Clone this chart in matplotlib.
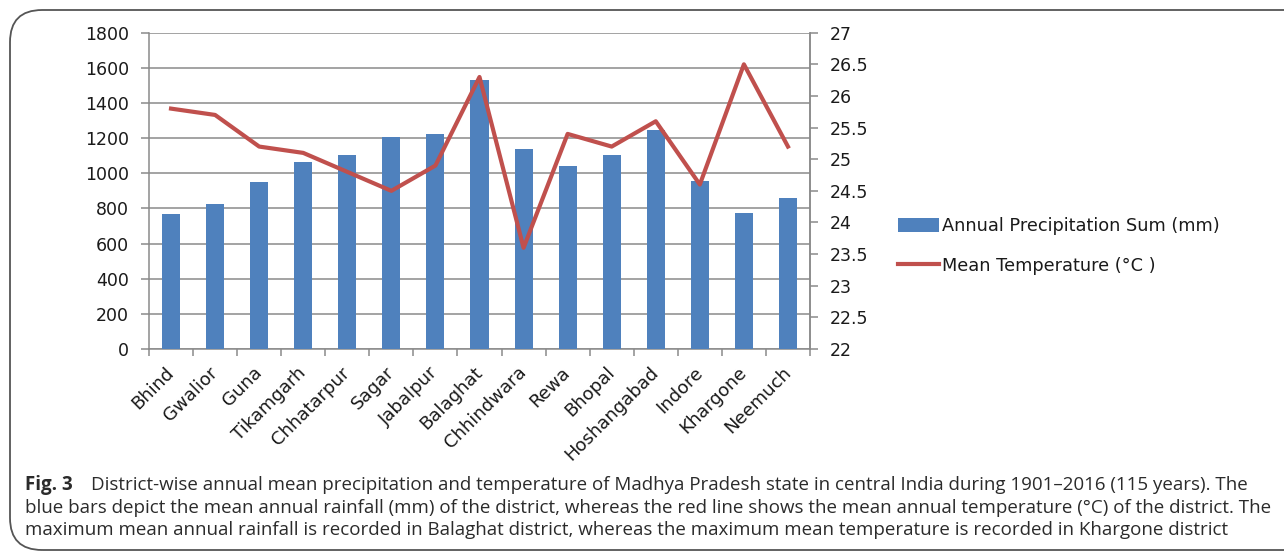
import matplotlib
matplotlib.use("Agg")
import matplotlib.pyplot as plt
from matplotlib.patches import FancyBboxPatch, Patch
from matplotlib.lines import Line2D
import numpy as np

districts = ["Bhind", "Gwalior", "Guna", "Tikamgarh", "Chhatarpur", "Sagar",
             "Jabalpur", "Balaghat", "Chhindwara", "Rewa", "Bhopal",
             "Hoshangabad", "Indore", "Khargone", "Neemuch"]
precip_mm = [768, 823, 952, 1064, 1103, 1206, 1225, 1532, 1140, 1039,
             1102, 1244, 954, 776, 861]
temp_c = [25.8, 25.7, 25.2, 25.1, 24.8, 24.5, 24.9, 26.3, 23.6, 25.4,
          25.2, 25.6, 24.6, 26.5, 25.2]
precip_ticks = [0, 200, 400, 600, 800, 1000, 1200, 1400, 1600, 1800]
temp_ticks = [22, 22.5, 23, 23.5, 24, 24.5, 25, 25.5, 26, 26.5, 27]
temp_tick_labels = ["22", "22.5", "23", "23.5", "24", "24.5", "25", "25.5",
                    "26", "26.5", "27"]

BAR = "#4F81BD"
LINE = "#C0504D"
GRID = "#8A8A8A"
TXT = "#1a1a1a"
FONT = ["DejaVu Sans"]
CAP_FONT = ["Open Sans", "DejaVu Sans"]
CAP_COLOR = "#2b2b2b"

W, H = 1284, 552
fig = plt.figure(figsize=(W / 100, H / 100), dpi=100)

# rounded frame around the figure and its caption
frame = FancyBboxPatch((10 / W, 2 / H), (W + 40) / W, (H - 12) / H,
                       boxstyle="round,pad=0,rounding_size=0.025",
                       transform=fig.transFigure, fill=False,
                       edgecolor="#555555", linewidth=1.3,
                       mutation_aspect=W / H)
fig.patches.append(frame)

ax = fig.add_axes([149 / W, 1 - 349 / H, (810 - 149) / W, (349 - 32.7) / H])
x = np.arange(len(districts))
ax.bar(x, precip_mm, width=0.41, color=BAR, zorder=3)
ax.set_xlim(-0.5, len(districts) - 0.5)
ax.set_ylim(0, 1800)
ax.set_yticks(precip_ticks)
ax.yaxis.grid(True, color=GRID, linewidth=1.1, zorder=0)
ax.set_axisbelow(True)
ax.set_xticks(np.arange(-0.5, len(districts), 1.0))
ax.set_xticklabels([])
ax.set_xticks(x, minor=True)
ax.set_xticklabels(districts, minor=True, rotation=45, ha="right",
                   va="center", rotation_mode="anchor", fontsize=13,
                   family=FONT, color=TXT)
ax.tick_params(axis="x", which="major", length=5, color=GRID, width=1.1)
ax.tick_params(axis="x", which="minor", length=0, pad=15)
ax.tick_params(axis="y", length=5.5, color=GRID, width=1.1, labelsize=12.5,
               labelcolor=TXT, pad=9)
for lbl in ax.get_yticklabels():
    lbl.set_family(FONT)
for s in ["left", "bottom", "right"]:
    ax.spines[s].set_color(GRID)
    ax.spines[s].set_linewidth(1.1)
ax.spines["top"].set_visible(False)

ax2 = ax.twinx()
ax2.plot(x, temp_c, color=LINE, linewidth=3, zorder=4)
ax2.set_ylim(22, 27)
ax2.set_yticks(temp_ticks)
ax2.set_yticklabels(temp_tick_labels, family=FONT)
ax2.tick_params(axis="y", length=6, color=GRID, width=1.1, labelsize=12.5,
                labelcolor=TXT, pad=8)
for s in ["left", "bottom", "top"]:
    ax2.spines[s].set_visible(False)
ax2.spines["right"].set_color(GRID)
ax2.spines["right"].set_linewidth(1.1)

handles = [Patch(facecolor=BAR, edgecolor="none"),
           Line2D([0], [0], color=LINE, linewidth=3)]
fig.legend(handles, ["Annual Precipitation Sum (mm)", "Mean Temperature (°C )"],
           loc="center left", bbox_to_anchor=(882 / W, 1 - 246 / H),
           frameon=False, prop={"family": FONT, "size": 12.8},
           handlelength=2.3, handleheight=0.8, handletextpad=0.15,
           labelspacing=1.2, labelcolor=TXT)

cap_lines = [
    "District-wise annual mean precipitation and temperature of Madhya Pradesh state in central India during 1901–2016 (115 years). The",
    "blue bars depict the mean annual rainfall (mm) of the district, whereas the red line shows the mean annual temperature (°C) of the district. The",
    "maximum mean annual rainfall is recorded in Balaghat district, whereas the maximum mean temperature is recorded in Khargone district",
]
cap_y = [485, 508, 530]
cap_size = 13.5
fig.text(25 / W, 1 - cap_y[0] / H, "Fig. 3", family=CAP_FONT,
         fontsize=cap_size, fontweight="bold", va="center", ha="left",
         color=CAP_COLOR)
fig.text(91 / W, 1 - cap_y[0] / H, cap_lines[0], family=CAP_FONT,
         fontsize=cap_size, va="center", ha="left", color=CAP_COLOR)
fig.text(25 / W, 1 - cap_y[1] / H, cap_lines[1], family=CAP_FONT,
         fontsize=cap_size, va="center", ha="left", color=CAP_COLOR)
fig.text(25 / W, 1 - cap_y[2] / H, cap_lines[2], family=CAP_FONT,
         fontsize=cap_size, va="center", ha="left", color=CAP_COLOR)

fig.savefig("out.png", dpi=100)
